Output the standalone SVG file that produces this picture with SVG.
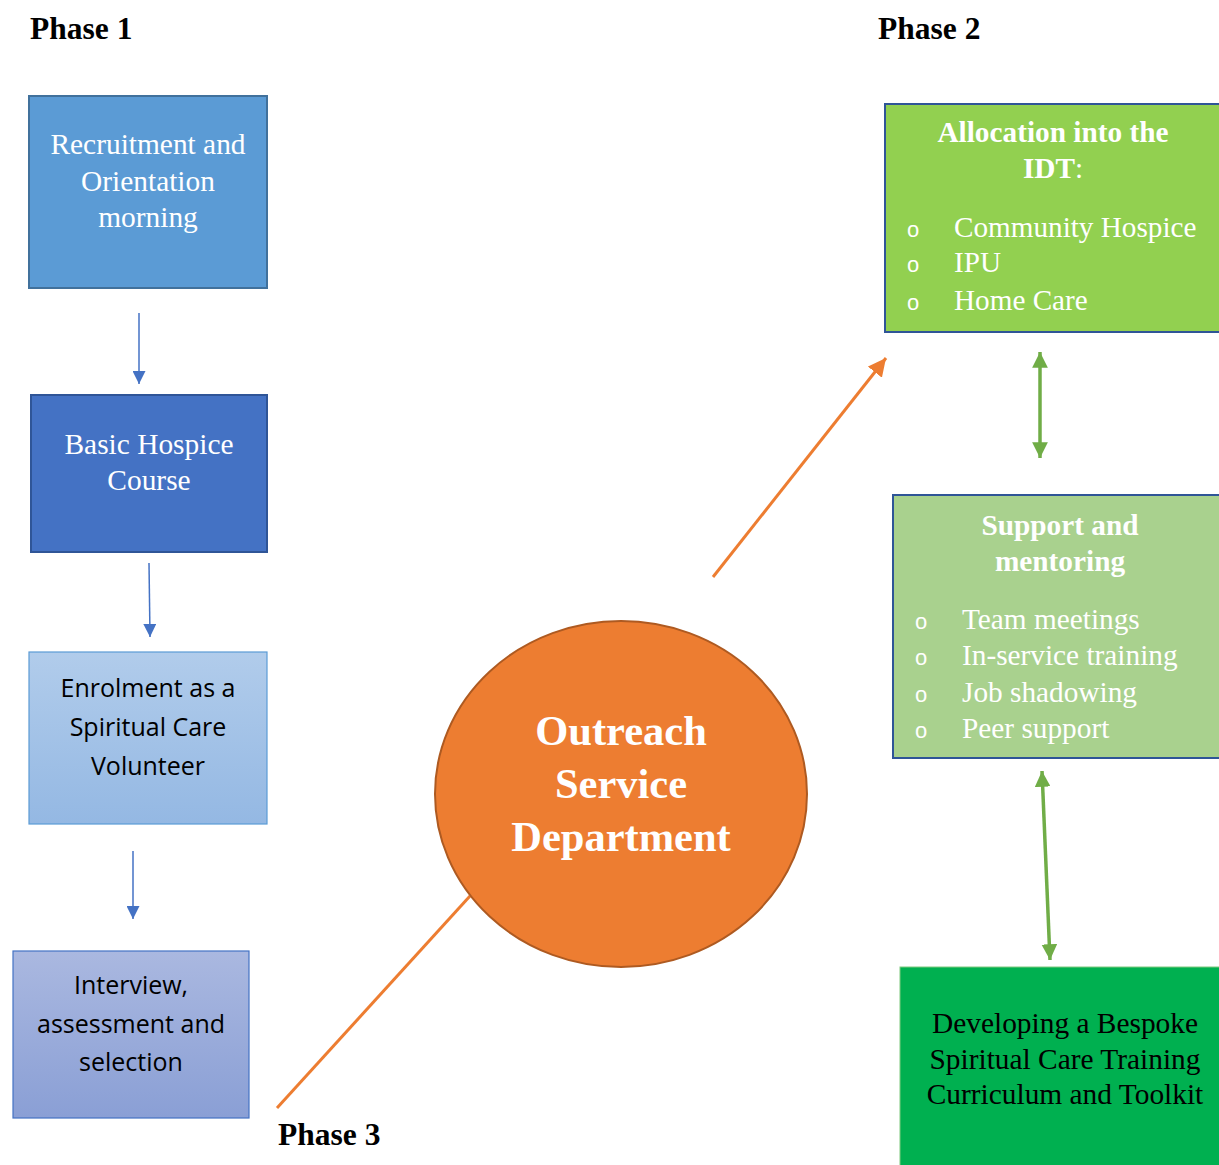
<svg xmlns="http://www.w3.org/2000/svg" width="1219" height="1165" viewBox="0 0 1219 1165">
<style>
.ser{font-family:"Liberation Serif","Times New Roman",serif}
.sans{font-family:"Open Sans","Liberation Sans",sans-serif}
.bul{font-family:"Liberation Sans",sans-serif;font-size:22px}
.phase{font-family:"Liberation Serif",serif;font-weight:bold;font-size:31.5px;fill:#000}
.wt{fill:#fff}
.blue{stroke:#4472C4;stroke-width:1.5;fill:none}
.orange{stroke:#ED7D31;stroke-width:3;fill:none}
.green{stroke:#70AD47;stroke-width:3.5;fill:none}
</style>
<defs>
<marker id="ab" viewBox="0 0 10 10" refX="10" refY="5" markerWidth="13" markerHeight="13" markerUnits="userSpaceOnUse" orient="auto"><path d="M0,0 L10,5 L0,10 z" fill="#4472C4"/></marker>
<marker id="ao" viewBox="0 0 10 10" refX="10" refY="5" markerWidth="6" markerHeight="6" orient="auto"><path d="M0,0 L10,5 L0,10 z" fill="#ED7D31"/></marker>
<marker id="ag" viewBox="0 0 10 10" refX="10" refY="5" markerWidth="4.5" markerHeight="4.5" orient="auto-start-reverse"><path d="M0,0 L10,5 L0,10 z" fill="#70AD47"/></marker>
<linearGradient id="g3" x1="0" y1="0" x2="0" y2="1"><stop offset="0" stop-color="#B1CCEB"/><stop offset="1" stop-color="#94B8E3"/></linearGradient>
<linearGradient id="g4" x1="0" y1="0" x2="0" y2="1"><stop offset="0" stop-color="#AAB8E0"/><stop offset="1" stop-color="#8A9FD5"/></linearGradient>
</defs>

<text class="phase" x="30" y="39">Phase 1</text>
<text class="phase" x="878" y="39">Phase 2</text>
<text class="phase" x="278" y="1145">Phase 3</text>

<g id="connectors">
<line class="blue" x1="139" y1="313" x2="139" y2="384" marker-end="url(#ab)"/>
<line class="blue" x1="149" y1="563" x2="150" y2="637" marker-end="url(#ab)"/>
<line class="blue" x1="133" y1="851" x2="133" y2="919" marker-end="url(#ab)"/>
<line class="orange" x1="713" y1="577" x2="886" y2="358" marker-end="url(#ao)"/>
<line class="orange" x1="277" y1="1108" x2="470" y2="896"/>
<line class="green" x1="1040" y1="352" x2="1040" y2="458" marker-start="url(#ag)" marker-end="url(#ag)"/>
<line class="green" x1="1042" y1="771" x2="1050" y2="960" marker-start="url(#ag)" marker-end="url(#ag)"/>
</g>

<g id="n-recruit">
<rect x="29" y="96" width="238" height="192" fill="#5B9BD5" stroke="#41719C" stroke-width="2"/>
<text class="ser wt" font-size="29.4" text-anchor="middle"><tspan x="148" y="154">Recruitment and</tspan><tspan x="148" y="191">Orientation</tspan><tspan x="148" y="227">morning</tspan></text>
</g>

<g id="n-basic">
<rect x="31" y="395" width="236" height="157" fill="#4472C4" stroke="#2F5597" stroke-width="2"/>
<text class="ser wt" font-size="29.4" text-anchor="middle"><tspan x="149" y="454">Basic Hospice</tspan><tspan x="149" y="490">Course</tspan></text>
</g>

<g id="n-enrol">
<rect x="29" y="652" width="238" height="172" fill="url(#g3)" stroke="#5B9BD5" stroke-width="1.2"/>
<text class="sans" font-size="25" fill="#000" text-anchor="middle"><tspan x="148" y="697">Enrolment as a</tspan><tspan x="148" y="736">Spiritual Care</tspan><tspan x="148" y="775">Volunteer</tspan></text>
</g>

<g id="n-interview">
<rect x="13" y="951" width="236" height="167" fill="url(#g4)" stroke="#4472C4" stroke-width="1.2"/>
<text class="sans" font-size="25" fill="#000" text-anchor="middle"><tspan x="131" y="994">Interview,</tspan><tspan x="131" y="1033">assessment and</tspan><tspan x="131" y="1071">selection</tspan></text>
</g>

<g id="n-outreach">
<ellipse cx="621" cy="794" rx="186" ry="173" fill="#ED7D31" stroke="#AE5A21" stroke-width="2"/>
<text class="ser wt" font-size="42.5" font-weight="bold" text-anchor="middle"><tspan x="621" y="745">Outreach</tspan><tspan x="621" y="798">Service</tspan><tspan x="621" y="851">Department</tspan></text>
</g>

<g id="n-allocation">
<rect x="885" y="104" width="340" height="228" fill="#92D050" stroke="#2F5597" stroke-width="2"/>
<text class="ser wt" font-size="29.3" font-weight="bold" text-anchor="middle"><tspan x="1053" y="142">Allocation into the</tspan><tspan x="1053" y="178">IDT<tspan font-weight="normal">:</tspan></tspan></text>
<text class="bul wt"><tspan x="907" y="237">o</tspan><tspan x="907" y="272">o</tspan><tspan x="907" y="310">o</tspan></text>
<text class="ser wt" font-size="29.2"><tspan x="954" y="237">Community Hospice</tspan><tspan x="954" y="272">IPU</tspan><tspan x="954" y="310">Home Care</tspan></text>
</g>

<g id="n-support">
<rect x="893" y="495" width="332" height="263" fill="#A9D18E" stroke="#2F5597" stroke-width="2"/>
<text class="ser wt" font-size="29.3" font-weight="bold" text-anchor="middle"><tspan x="1060" y="535">Support and</tspan><tspan x="1060" y="571">mentoring</tspan></text>
<text class="bul wt"><tspan x="915" y="629">o</tspan><tspan x="915" y="665">o</tspan><tspan x="915" y="702">o</tspan><tspan x="915" y="738">o</tspan></text>
<text class="ser wt" font-size="29.3"><tspan x="962" y="629">Team meetings</tspan><tspan x="962" y="665">In-service training</tspan><tspan x="962" y="702">Job shadowing</tspan><tspan x="962" y="738">Peer support</tspan></text>
</g>

<g id="n-developing">
<rect x="900" y="967" width="325" height="205" fill="#00B050" stroke="#7FC97F" stroke-width="1"/>
<text class="ser" font-size="29.4" fill="#000" text-anchor="middle"><tspan x="1065" y="1033">Developing a Bespoke</tspan><tspan x="1065" y="1069">Spiritual Care Training</tspan><tspan x="1065" y="1104">Curriculum and Toolkit</tspan></text>
</g>
</svg>
